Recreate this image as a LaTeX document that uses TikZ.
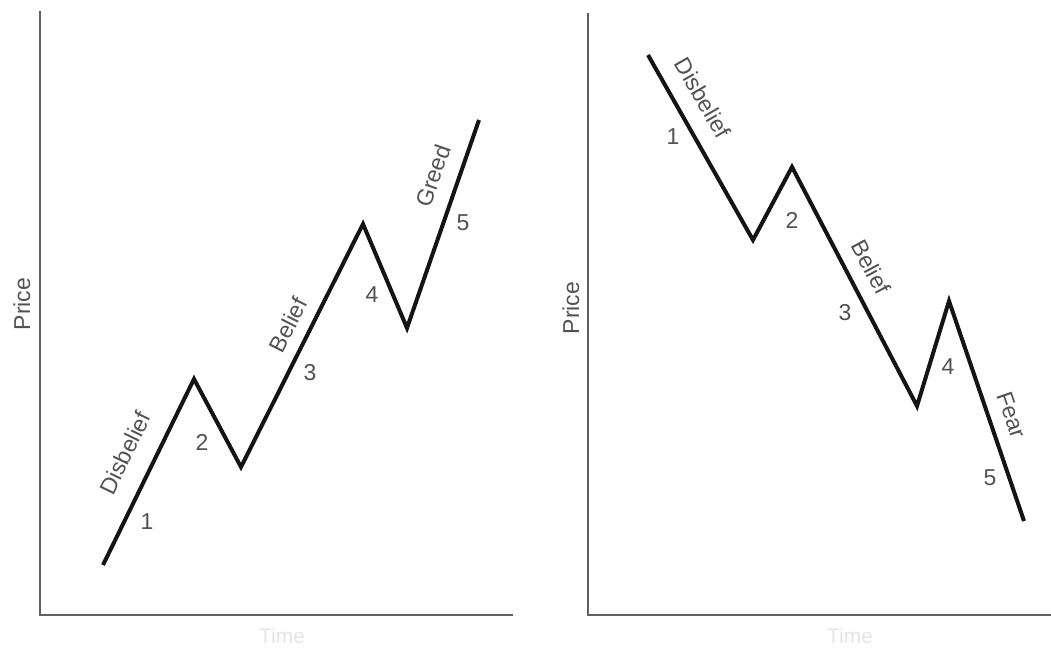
\documentclass[tikz,border=0pt]{standalone}
\usepackage{fontspec}
\setmainfont{Liberation Sans}
\begin{document}
\begin{tikzpicture}[x=1pt,y=-1pt,
  lbl/.style={text=black!68, font=\fontsize{23}{27}\selectfont, inner sep=0pt},
  faint/.style={text=black!10, font=\fontsize{21}{25}\selectfont, inner sep=0pt},
  wave/.style={line width=4pt, line join=miter, black!92},
  axisline/.style={line width=2.6pt, black!62}]
\useasboundingbox[fill=white] (0,0) rectangle (1051,650);
% ---------- left panel ----------
\coordinate (LT) at (40,11);
\coordinate (LO) at (40,615);
\coordinate (LR) at (513,615);
\draw[axisline] (LT) -- (LO) -- (LR);
\coordinate (a0) at (103,565);
\coordinate (a1) at (194,379);
\coordinate (a2) at (241,467);
\coordinate (a3) at (363,224);
\coordinate (a4) at (407,328);
\coordinate (a5) at (479,120);
\draw[wave] (a0) -- (a1) -- (a2) -- (a3) -- (a4) -- (a5);
\node[lbl, rotate=90] (lprice) at (22,304) {Price};
\node[faint] (ltime) at (282,636) {Time};
\node[lbl, rotate=64] (ldis) at (125,453) {Disbelief};
\node[lbl, rotate=63] (lbel) at (288,325) {Belief};
\node[lbl, rotate=71] (lgre) at (433,176) {Greed};
\node[lbl] (l1) at (147,522) {1};
\node[lbl] (l2) at (202,442) {2};
\node[lbl] (l3) at (310,373) {3};
\node[lbl] (l4) at (372,295) {4};
\node[lbl] (l5) at (463,223) {5};
% ---------- right panel ----------
\coordinate (RT) at (588,13);
\coordinate (RO) at (588,615);
\coordinate (RR) at (1051,615);
\draw[axisline] (RT) -- (RO) -- (RR);
\coordinate (b0) at (648,55);
\coordinate (b1) at (753,240);
\coordinate (b2) at (792,167);
\coordinate (b3) at (917,406);
\coordinate (b4) at (949,301);
\coordinate (b5) at (1024,521);
\draw[wave] (b0) -- (b1) -- (b2) -- (b3) -- (b4) -- (b5);
\node[lbl, rotate=90] (rprice) at (571,308) {Price};
\node[faint] (rtime) at (850,636) {Time};
\node[lbl, rotate=-60] (rdis) at (703,98) {Disbelief};
\node[lbl, rotate=-62] (rbel) at (871,267) {Belief};
\node[lbl, rotate=-71] (rfea) at (1012,415) {Fear};
\node[lbl] (r1) at (673,137) {1};
\node[lbl] (r2) at (792,220) {2};
\node[lbl] (r3) at (845,313) {3};
\node[lbl] (r4) at (948,367) {4};
\node[lbl] (r5) at (990,478) {5};
\end{tikzpicture}
\end{document}
